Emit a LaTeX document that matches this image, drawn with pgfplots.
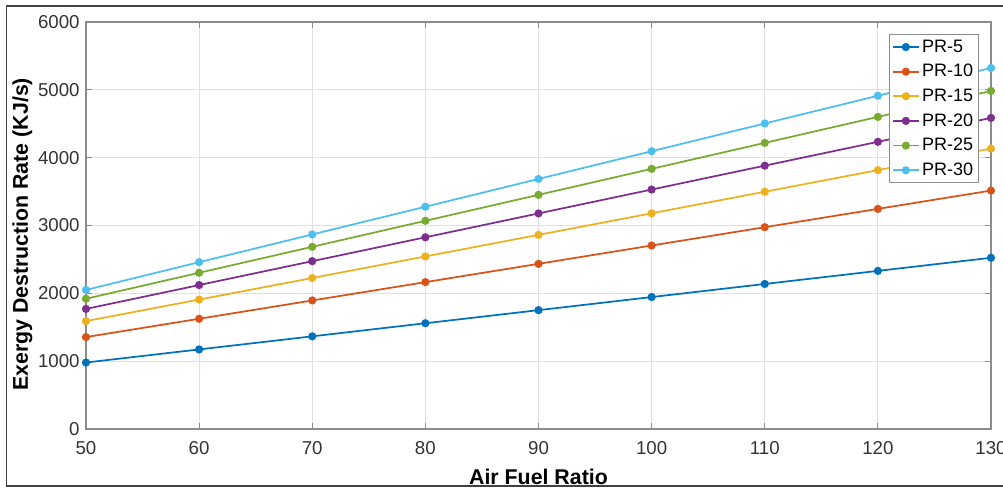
\documentclass[border=0pt]{standalone}
\usepackage{pgfplots}
\pgfplotsset{compat=1.18}
\usepackage{fontspec}
\setmainfont{Liberation Sans}
\definecolor{c1}{rgb}{0,0.447,0.741}
\definecolor{c2}{rgb}{0.85,0.325,0.098}
\definecolor{c3}{rgb}{0.929,0.694,0.125}
\definecolor{c4}{rgb}{0.494,0.184,0.556}
\definecolor{c5}{rgb}{0.466,0.674,0.188}
\definecolor{c6}{rgb}{0.301,0.745,0.933}
\definecolor{tickgray}{gray}{0.2}
\definecolor{axgray}{gray}{0.55}
\definecolor{gridgray}{gray}{0.88}
\begin{document}
\begin{tikzpicture}
\begin{axis}[
  at={(0,0)}, anchor=south west,
  scale only axis,
  width=678.75pt, height=305.25pt,
  xmin=50, xmax=130, ymin=0, ymax=6000,
  xtick={50,60,...,130}, ytick={0,1000,...,6000},
  grid=major,
  major grid style={gridgray, line width=0.6pt},
  axis line style={axgray, line width=0.8pt},
  tick style={axgray, line width=0.8pt},
  tick align=inside,
  major tick length=4.5pt,
  /pgf/number format/assume math mode=true,
  /pgf/number format/1000 sep={},
  ticklabel style={font=\fontsize{14}{16}\selectfont, text=tickgray},
  xticklabel style={yshift=-5.8pt},
  yticklabel style={xshift=-1.3pt},
  xlabel={\textbf{Air Fuel Ratio}},
  ylabel={\textbf{Exergy Destruction Rate (KJ/s)}},
  label style={font=\fontsize{16}{18}\selectfont},
  xlabel style={at={(axis description cs:0.5,0)}, anchor=base, yshift=-42pt},
  ylabel style={at={(axis description cs:-0.0641,0.478)}, anchor=base},
  legend style={
    at={(axis description cs:0.9867,0.9705)}, anchor=north east,
    font=\fontsize{13.5}{15}\selectfont,
    draw=axgray, line width=0.8pt, fill=white,
    inner sep=2pt, row sep=3.6pt,
  },
  legend image code/.code={
    \draw[mark repeat=2,mark phase=2] plot coordinates {(0pt,0pt)(9.5pt,0pt)(19pt,0pt)};
  },
  legend cell align=left,
  every axis plot/.append style={line width=1.3pt, mark=*, mark size=2.4pt},
]
\addplot[c1, mark options={fill=c1}] coordinates {(50,980)(60,1173)(70,1366)(80,1559)(90,1752)(100,1945)(110,2138)(120,2331)(130,2524)};
\addlegendentry{PR-5}
\addplot[c2, mark options={fill=c2}] coordinates {(50,1355)(60,1625)(70,1895)(80,2165)(90,2435)(100,2705)(110,2975)(120,3245)(130,3515)};
\addlegendentry{PR-10}
\addplot[c3, mark options={fill=c3}] coordinates {(50,1590)(60,1908)(70,2226)(80,2544)(90,2862)(100,3180)(110,3498)(120,3816)(130,4134)};
\addlegendentry{PR-15}
\addplot[c4, mark options={fill=c4}] coordinates {(50,1770)(60,2122)(70,2474)(80,2826)(90,3178)(100,3530)(110,3882)(120,4234)(130,4586)};
\addlegendentry{PR-20}
\addplot[c5, mark options={fill=c5}] coordinates {(50,1920)(60,2303)(70,2686)(80,3069)(90,3452)(100,3835)(110,4218)(120,4601)(130,4984)};
\addlegendentry{PR-25}
\addplot[c6, mark options={fill=c6}] coordinates {(50,2050)(60,2459)(70,2868)(80,3277)(90,3686)(100,4095)(110,4504)(120,4913)(130,5322)};
\addlegendentry{PR-30}
\end{axis}
\pgfresetboundingbox
\useasboundingbox (-64.5pt,-44.25pt) rectangle (687.75pt,321.75pt);
\draw[gray!50!black, line width=1.1pt] (700pt,-42.75pt) -- (-59.5pt,-42.75pt) -- (-59.5pt,317.25pt) -- (700pt,317.25pt);
\end{tikzpicture}
\end{document}
